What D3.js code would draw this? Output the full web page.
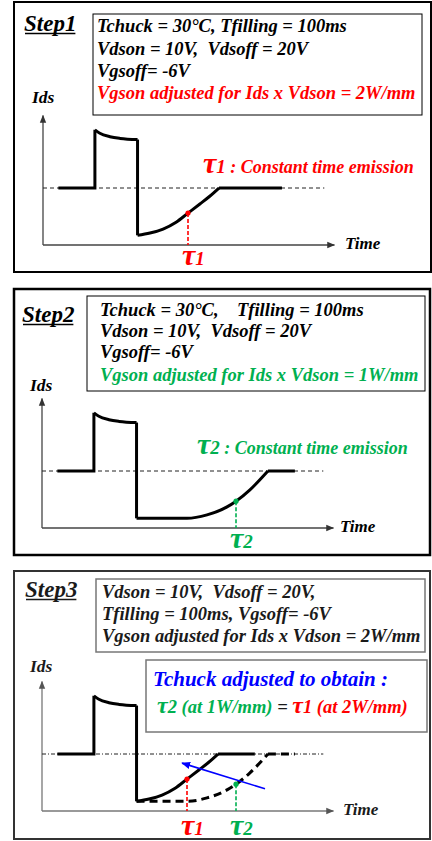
<!DOCTYPE html>
<html><head><meta charset="utf-8">
<script src="https://cdn.jsdelivr.net/npm/d3@7"></script>
<style>
html,body{margin:0;padding:0;background:#fff;}
svg{display:block;}
text{font-family:"Liberation Serif","Times New Roman",serif;font-weight:bold;font-style:italic;white-space:pre;}
</style>
</head><body><div id="chart"></div>
<script>
// Ids(t) over one fill / emission cycle. Time in 0..100 units, current normalised so the steady level is 0.
const pulseTime    = [5.3, 17.9, 17.9, 19.6, 23.1, 26.6, 32.6, 32.6];
const pulseCurrent = [0, 0, 1.02, 0.96, 0.90, 0.87, 0.85, -0.83];

// Recovery transients: 2 W/mm (tau1) and 1 W/mm (tau2)
const emission1Time    = [32.6, 36.9, 41.4, 45.9, 50.0, 54.1, 57.6, 60.7];
const emission1Current = [-0.83, -0.79, -0.72, -0.60, -0.44, -0.28, -0.14, 0];
const emission2Time    = [32.6, 50.0, 56.9, 63.8, 66.9, 71.7, 77.9];
const emission2Current = [-0.83, -0.83, -0.77, -0.63, -0.53, -0.33, 0];
const tau1Index = 4;
const tau2Index = 4;

// End of the steady-state segment for each drawn trace
const steadyEnd1 = [82.4, 73.4];   // step1, step3 (solid)
const steadyEnd2 = [87.2, 87.2];   // step2, step3 (dashed)

// Labels
const stepLabels = ["Step1", "Step2", "Step3"];
const step1Conditions = ["Tchuck = 30°C, Tfilling = 100ms", "Vdson = 10V,  Vdsoff = 20V", "Vgsoff= -6V"];
const step1Power = "Vgson adjusted for Ids x Vdson = 2W/mm";
const step2Conditions = ["Tchuck = 30°C,    Tfilling = 100ms", "Vdson = 10V,  Vdsoff = 20V", "Vgsoff= -6V"];
const step2Power = "Vgson adjusted for Ids x Vdson = 1W/mm";
const step3Conditions = ["Vdson = 10V,  Vdsoff = 20V,", "Tfilling = 100ms, Vgsoff= -6V", "Vgson adjusted for Ids x Vdson = 2W/mm"];
const step3Goal = "Tchuck adjusted to obtain :";

const RED = "#ff0000", GREEN = "#00b050", BLUE = "#0000ff";

const svg = d3.select("#chart").append("svg").attr("width", 432).attr("height", 841);

const defs = svg.append("defs");
function arrowMarker(id, color, size) {
  defs.append("marker").attr("id", id)
    .attr("viewBox", "0 0 10 10").attr("refX", 9).attr("refY", 5)
    .attr("markerWidth", size).attr("markerHeight", size).attr("markerUnits", "userSpaceOnUse")
    .attr("orient", "auto")
    .append("path").attr("d", "M0,1 L10,5 L0,9 Z").attr("fill", color);
}
arrowMarker("arrowGray", "#333", 8);
arrowMarker("arrowGray3", "#555", 8);
arrowMarker("arrowBlue", BLUE, 9);

function zip(ts, vs) { return ts.map((t, i) => [t, vs[i]]); }

function addText(g, x, y, parts, size, fill) {
  const t = g.append("text").attr("x", x).attr("y", y)
    .attr("font-size", size).attr("fill", fill || "#000");
  parts.forEach(p => {
    if (typeof p === "string") { t.append("tspan").text(p); return; }
    const s = t.append("tspan").text(p.text);
    if (p.size) s.attr("font-size", p.size);
    if (p.fill) s.attr("fill", p.fill);
    if (p.weight) s.style("font-weight", p.weight);
    if (p.dx) s.attr("dx", p.dx);
  });
  return t;
}

function tauLabel(g, x, y, idx, color, tauSize, subSize) {
  return addText(g, x, y, [
    {text: "τ", size: tauSize},
    {text: String(idx), size: subSize}
  ], tauSize, color);
}

function drawPanel(cfg) {
  const g = svg.append("g");
  const x = d3.scaleLinear().domain([0, 100]).range([cfg.x0, cfg.x0 + 290]);
  const y = d3.scaleLinear().domain([-1, 1]).range([cfg.base + 57, cfg.base - 57]);

  // frames
  g.append("rect").attr("x", cfg.frame[0]).attr("y", cfg.frame[1])
    .attr("width", cfg.frame[2]).attr("height", cfg.frame[3])
    .attr("fill", "none").attr("stroke", cfg.frameColor).attr("stroke-width", cfg.frameWidth);
  cfg.boxes.forEach(b => {
    g.append("rect").attr("x", b[0]).attr("y", b[1]).attr("width", b[2]).attr("height", b[3])
      .attr("fill", "none").attr("stroke", cfg.boxColor).attr("stroke-width", cfg.boxWidth);
  });

  // step label with underline
  const st = addText(g, cfg.step[0], cfg.step[1], [cfg.stepText], 23, cfg.ink);
  const bb = st.node().getBBox();
  g.append("line").attr("x1", bb.x + 1).attr("x2", bb.x + bb.width - 1)
    .attr("y1", cfg.step[1] + 2.5).attr("y2", cfg.step[1] + 2.5)
    .attr("stroke", cfg.ink).attr("stroke-width", 1.5);

  // conditions
  cfg.lines.forEach((ln, i) => {
    addText(g, cfg.linesX, cfg.linesY[i], [ln.text], 18.5, ln.fill || cfg.ink);
  });

  // axes
  const axisColor = cfg.axisColor;
  g.append("line").attr("x1", x(0)).attr("x2", x(0)).attr("y1", y(-1)).attr("y2", y(1.27))
    .attr("stroke", axisColor).attr("stroke-width", 1.3).attr("marker-end", `url(#${cfg.arrowId})`);
  g.append("line").attr("x1", x(0)).attr("x2", x(100.5)).attr("y1", y(-1)).attr("y2", y(-1))
    .attr("stroke", axisColor).attr("stroke-width", 1.3).attr("marker-end", `url(#${cfg.arrowId})`);
  addText(g, cfg.ids[0], cfg.ids[1], ["Ids"], 17.5, cfg.ink);
  addText(g, cfg.timeX, y(-1) + 4, ["Time"], 17, cfg.ink);

  // steady-state reference level
  g.append("line").attr("x1", x(0)).attr("x2", x(97)).attr("y1", y(0)).attr("y2", y(0))
    .attr("stroke", "#222").attr("stroke-width", 1).attr("stroke-dasharray", cfg.refDash);

  const lin = d3.line().x(d => x(d[0])).y(d => y(d[1]));
  const smooth = d3.line().x(d => x(d[0])).y(d => y(d[1])).curve(d3.curveMonotoneX);
  const pulse = zip(pulseTime, pulseCurrent);

  function trace(emT, emI, end, dash, withPulse) {
    const em = zip(emT, emI);
    const parts = [];
    if (withPulse) {
      parts.push(lin(pulse.slice(0, 3)));
      parts.push(smooth(pulse.slice(2, 7)));
      parts.push(lin(pulse.slice(6, 8)));
    }
    parts.push(smooth(em));
    parts.push(lin([em[em.length - 1], [end, 0]]));
    parts.forEach(d => {
      g.append("path").attr("d", d).attr("fill", "none").attr("stroke", "#000")
        .attr("stroke-width", 3).attr("stroke-linejoin", "miter")
        .attr("stroke-dasharray", dash || null);
    });
  }
  cfg.traces.forEach(tr => trace(tr.t, tr.i, tr.end, tr.dash, tr.pulse));

  // tau markers
  cfg.taus.forEach(tm => {
    const tx = tm.t[tm.idx], tv = tm.i[tm.idx];
    g.append("line").attr("x1", x(tx)).attr("x2", x(tx)).attr("y1", y(tv)).attr("y2", y(-1))
      .attr("stroke", tm.color).attr("stroke-width", 1.6).attr("stroke-dasharray", "4,2");
    g.append("circle").attr("cx", x(tx)).attr("cy", y(tv)).attr("r", 2.6).attr("fill", tm.color);
    tauLabel(g, x(tx) - 6, tm.labelY, tm.n, tm.color, 30, 19);
  });

  if (cfg.extra) cfg.extra(g, x, y);
}

// Step 1
drawPanel({
  x0: 43, base: 188,
  frame: [14, 2, 417, 270], frameColor: "#000", frameWidth: 2,
  boxes: [[93, 14, 329, 101]], boxColor: "#000", boxWidth: 1,
  ink: "#000", axisColor: "#444", arrowId: "arrowGray", refDash: "4,3",
  stepText: stepLabels[0], step: [24, 31],
  linesX: 97, linesY: [32, 55, 77, 99],
  lines: step1Conditions.map(t => ({text: t})).concat([{text: step1Power, fill: RED}]),
  ids: [32, 103], timeX: 345,
  traces: [{t: emission1Time, i: emission1Current, end: steadyEnd1[0], pulse: true}],
  taus: [{t: emission1Time, i: emission1Current, idx: tau1Index, color: RED, n: 1, labelY: 265}],
  extra: (g) => {
    addText(g, 203, 173, [{text: "τ", size: 30}, {text: "1", size: 19}, {text: " : Constant time emission", size: 18}], 30, RED);
  }
});

// Step 2
drawPanel({
  x0: 42, base: 471,
  frame: [14, 289, 416, 266], frameColor: "#000", frameWidth: 2.5,
  boxes: [[87, 296, 338, 95]], boxColor: "#000", boxWidth: 1,
  ink: "#000", axisColor: "#444", arrowId: "arrowGray", refDash: "4,3",
  stepText: stepLabels[1], step: [22, 322],
  linesX: 100, linesY: [316, 337, 358, 381],
  lines: step2Conditions.map(t => ({text: t})).concat([{text: step2Power, fill: GREEN}]),
  ids: [30, 391], timeX: 340,
  traces: [{t: emission2Time, i: emission2Current, end: steadyEnd2[0], pulse: true}],
  taus: [{t: emission2Time, i: emission2Current, idx: tau2Index, color: GREEN, n: 2, labelY: 548}],
  extra: (g) => {
    addText(g, 197, 454, [{text: "τ", size: 30}, {text: "2", size: 19}, {text: " : Constant time emission", size: 18}], 30, GREEN);
  }
});

// Step 3
drawPanel({
  x0: 42, base: 754,
  frame: [14, 571, 416, 268], frameColor: "#333", frameWidth: 2,
  boxes: [[96, 579, 329, 73], [146, 660, 281, 72]], boxColor: "#777", boxWidth: 1.5,
  ink: "#1a1a1a", axisColor: "#777", arrowId: "arrowGray3", refDash: "4,2,1,2",
  stepText: stepLabels[2], step: [25, 597],
  linesX: 102, linesY: [598, 620, 642],
  lines: step3Conditions.map(t => ({text: t})),
  ids: [30, 672], timeX: 343,
  traces: [
    {t: emission1Time, i: emission1Current, end: steadyEnd1[1], pulse: true},
    {t: emission2Time, i: emission2Current, end: steadyEnd2[1], dash: "8,5", pulse: false}
  ],
  taus: [
    {t: emission1Time, i: emission1Current, idx: tau1Index, color: RED, n: 1, labelY: 835},
    {t: emission2Time, i: emission2Current, idx: tau2Index, color: GREEN, n: 2, labelY: 835}
  ],
  extra: (g, x, y) => {
    addText(g, 153, 686, [step3Goal], 21, BLUE);
    addText(g, 157, 713, [
      {text: "τ", size: 24, fill: GREEN}, {text: "2 (at 1W/mm) ", size: 18.5, fill: GREEN},
      {text: "= ", size: 18.5, fill: "#1a1a1a"},
      {text: "τ", size: 24, fill: RED}, {text: "1 (at 2W/mm)", size: 18.5, fill: RED}
    ], 18.5, "#000");
    // shift of the emission transient when the chuck temperature is tuned
    g.append("line").attr("x1", x(76.9)).attr("y1", y(-0.61)).attr("x2", x(48.3)).attr("y2", y(-0.16))
      .attr("stroke", BLUE).attr("stroke-width", 1.6).attr("marker-end", "url(#arrowBlue)");
  }
});
</script>
</body></html>
